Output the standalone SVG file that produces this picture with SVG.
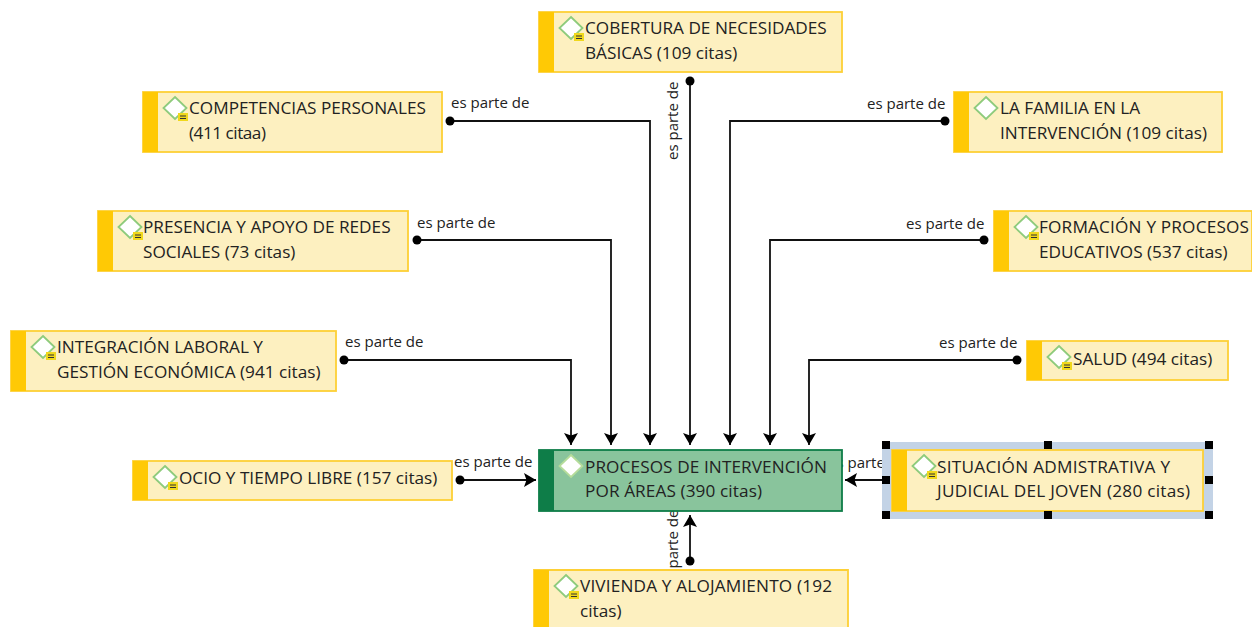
<svg xmlns="http://www.w3.org/2000/svg" width="1252" height="627" viewBox="0 0 1252 627">
<defs>
<marker id="arr" markerUnits="userSpaceOnUse" markerWidth="14" markerHeight="14" refX="12" refY="7" orient="auto"><path d="M0 0L12 7L0 14L2.500 7Z" fill="#000"/></marker>
<g id="dia"><path d="M0 -11L11.500 0L0 11L-11.500 0Z" fill="#fff" stroke="#8ecb7c" stroke-width="1.800"/></g>
<g id="badge"><rect x="0" y="0" width="10" height="8" fill="#f0d81c"/><path d="M2 3H8M2 5.500H8" stroke="#333" stroke-width="1.100"/></g>
</defs>
<style>
.box{fill:#fdf0c0;stroke:#fdd036;stroke-width:1.800}
.bar{fill:#ffc905}
.t{font-family:"Open Sans","Noto Sans",sans-serif;font-size:17.200px;fill:#222;font-weight:500}
.l{font-family:"Open Sans","Noto Sans",sans-serif;font-size:15px;fill:#222}
.c{fill:none;stroke:#111;stroke-width:1.800}
.d{fill:#000}
.h{fill:#000}
</style>
<rect width="1252" height="627" fill="#fff"/>
<g id="connectors">
<path class="c" d="M450 121H650V445" marker-end="url(#arr)"/><circle class="d" cx="450" cy="121" r="4.500"/>
<path class="c" d="M417 240H611V445" marker-end="url(#arr)"/><circle class="d" cx="417" cy="240" r="4.500"/>
<path class="c" d="M344 360H571V445" marker-end="url(#arr)"/><circle class="d" cx="344" cy="360" r="4.500"/>
<path class="c" d="M690 81V445" marker-end="url(#arr)"/><circle class="d" cx="690" cy="81" r="4.500"/>
<path class="c" d="M945 121H730V445" marker-end="url(#arr)"/><circle class="d" cx="945" cy="121" r="4.500"/>
<path class="c" d="M984 240H770V445" marker-end="url(#arr)"/><circle class="d" cx="984" cy="240" r="4.500"/>
<path class="c" d="M1017 360H809V445" marker-end="url(#arr)"/><circle class="d" cx="1017" cy="360" r="4.500"/>
<path class="c" d="M460 480H536" marker-end="url(#arr)"/><circle class="d" cx="460" cy="480" r="4.500"/>
<path class="c" d="M882 480H845" marker-end="url(#arr)"/>
<path class="c" d="M690 561V515" marker-end="url(#arr)"/><circle class="d" cx="690" cy="561" r="4.500"/>
<text class="l" x="451" y="108">es parte de</text>
<text class="l" x="417" y="228">es parte de</text>
<text class="l" x="345" y="347">es parte de</text>
<text class="l" x="867" y="109">es parte de</text>
<text class="l" x="906" y="229">es parte de</text>
<text class="l" x="939" y="348">es parte de</text>
<text class="l" x="454" y="467">es parte de</text>
<text class="l" x="828" y="468">es parte de</text>
<text class="l" transform="translate(678 160) rotate(-90)">es parte de</text>
<text class="l" transform="translate(678 588) rotate(-90)">es parte de</text>
</g>
<g id="n-cobertura"><rect class="box" x="539" y="12" width="303" height="60"/><rect class="bar" x="539" y="12" width="15" height="60"/><use href="#dia" x="571" y="28"/><use href="#badge" x="574" y="33"/><text class="t" x="585" y="34">COBERTURA DE NECESIDADES</text><text class="t" x="585" y="59">BÁSICAS (109 citas)</text></g>
<g id="n-competencias"><rect class="box" x="143" y="92" width="299" height="60"/><rect class="bar" x="143" y="92" width="15" height="60"/><use href="#dia" x="175" y="108"/><use href="#badge" x="178" y="113"/><text class="t" x="189" y="114">COMPETENCIAS PERSONALES</text><text class="t" x="189" y="139" textLength="77">(411 citaa)</text></g>
<g id="n-familia"><rect class="box" x="954" y="92" width="268" height="60"/><rect class="bar" x="954" y="92" width="15" height="60"/><use href="#dia" x="986" y="108"/><text class="t" x="1000" y="114">LA FAMILIA EN LA</text><text class="t" x="1000" y="139">INTERVENCIÓN (109 citas)</text></g>
<g id="n-presencia"><rect class="box" x="98" y="211" width="310" height="60"/><rect class="bar" x="98" y="211" width="15" height="60"/><use href="#dia" x="130" y="227"/><use href="#badge" x="133" y="232"/><text class="t" x="143" y="233">PRESENCIA Y APOYO DE REDES</text><text class="t" x="143" y="258">SOCIALES (73 citas)</text></g>
<g id="n-formacion"><rect class="box" x="994" y="211" width="258" height="60"/><rect class="bar" x="994" y="211" width="15" height="60"/><use href="#dia" x="1026" y="227"/><use href="#badge" x="1029" y="232"/><text class="t" x="1039" y="233" textLength="210">FORMACIÓN Y PROCESOS</text><text class="t" x="1039" y="258">EDUCATIVOS (537 citas)</text></g>
<g id="n-integracion"><rect class="box" x="11" y="331" width="325" height="60"/><rect class="bar" x="11" y="331" width="15" height="60"/><use href="#dia" x="43" y="347"/><use href="#badge" x="46" y="352"/><text class="t" x="57" y="353">INTEGRACIÓN LABORAL Y</text><text class="t" x="57" y="378">GESTIÓN ECONÓMICA (941 citas)</text></g>
<g id="n-salud"><rect class="box" x="1027" y="341" width="201" height="39"/><rect class="bar" x="1027" y="341" width="15" height="39"/><use href="#dia" x="1059" y="357"/><use href="#badge" x="1062" y="362"/><text class="t" x="1073" y="365">SALUD (494 citas)</text></g>
<g id="n-ocio"><rect class="box" x="133" y="461" width="319" height="39"/><rect class="bar" x="133" y="461" width="15" height="39"/><use href="#dia" x="165" y="477"/><use href="#badge" x="168" y="482"/><text class="t" x="179" y="484">OCIO Y TIEMPO LIBRE (157 citas)</text></g>
<g id="n-procesos"><rect x="539" y="450" width="303" height="61" fill="#89c49c" stroke="#0e7d48" stroke-width="1.800"/><rect x="539" y="450" width="15" height="61" fill="#0e7d48"/><path d="M571 455L582.500 466L571 477L559.500 466Z" fill="#fff" stroke="#b5dc9a" stroke-width="1.800"/><text class="t" x="585" y="473" textLength="242">PROCESOS DE INTERVENCIÓN</text><text class="t" x="585" y="497" textLength="177">POR ÁREAS (390 citas)</text></g>
<g id="n-situacion"><rect x="882" y="442" width="331" height="77" fill="#c3d3e6"/><rect class="box" x="892" y="450" width="311" height="61"/><rect class="bar" x="892" y="450" width="15" height="61"/><use href="#dia" x="924" y="466"/><use href="#badge" x="927" y="471"/><text class="t" x="937" y="473" textLength="233">SITUACIÓN ADMISTRATIVA Y</text><text class="t" x="937" y="497" textLength="253">JUDICIAL DEL JOVEN (280 citas)</text>
<rect class="h" x="882" y="441" width="8" height="8"/><rect class="h" x="1044" y="441" width="8" height="8"/><rect class="h" x="1205" y="441" width="8" height="8"/><rect class="h" x="882" y="476" width="8" height="8"/><rect class="h" x="1205" y="476" width="8" height="8"/><rect class="h" x="882" y="511" width="8" height="8"/><rect class="h" x="1044" y="511" width="8" height="8"/><rect class="h" x="1205" y="511" width="8" height="8"/></g>
<g id="n-vivienda"><path class="box" d="M534 627V570H848V627"/><rect class="bar" x="534" y="570" width="15" height="57"/><use href="#dia" x="566" y="586"/><use href="#badge" x="569" y="591"/><text class="t" x="580" y="592" textLength="252">VIVIENDA Y ALOJAMIENTO (192</text><text class="t" x="580" y="617">citas)</text></g>
</svg>
